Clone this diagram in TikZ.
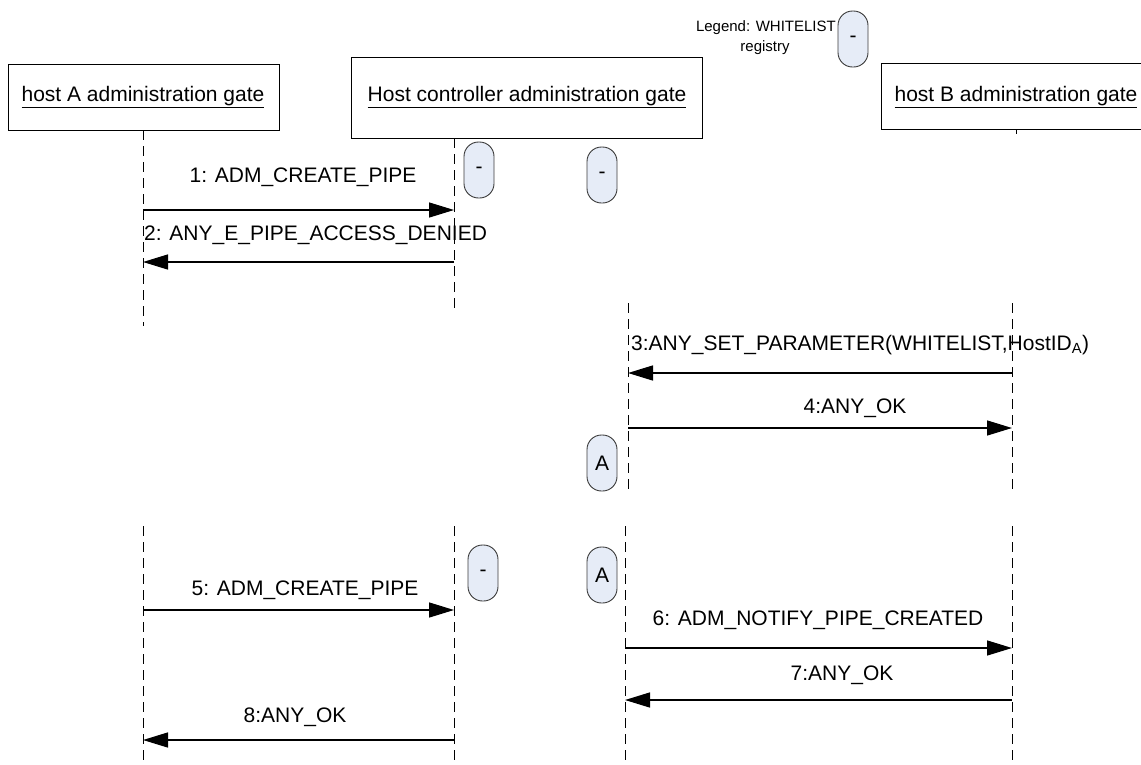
\documentclass[tikz,border=0pt]{standalone}
\usepackage{fontspec}
\setmainfont{Liberation Sans}
\usetikzlibrary{arrows.meta}
\definecolor{pillfill}{RGB}{230,236,247}
\definecolor{pillline}{RGB}{60,60,60}
\begin{document}
\begin{tikzpicture}[x=1pt,y=-1pt,
  box/.style={draw, line width=0.9pt, inner sep=0pt},
  boxtext/.style={font=\fontsize{21}{25}\selectfont, inner sep=0pt},
  msg/.style={font=\fontsize{21}{25}\selectfont, inner sep=0pt},
  legendtext/.style={font=\fontsize{15}{18}\selectfont, inner sep=0pt, align=center},
  life/.style={line width=1pt, dash pattern=on 10pt off 6pt},
  arr/.style={line width=1.4pt, -{Triangle[length=25pt,width=15pt]}},
  pill/.style={draw=pillline, fill=pillfill, line width=0.9pt, rounded corners=14.5pt,
    minimum width=30pt, minimum height=56pt, inner sep=0pt, font=\fontsize{21}{25}\selectfont},
]
\useasboundingbox (0,0) rectangle (1141,764);
\clip (0,0) rectangle (1141,764);

% ---- participant boxes
\node[box, minimum width=271pt, minimum height=66pt] (boxA) at (143.5,97) {};
\node[boxtext] (tA) at (143,97) {\underline{host A administration gate}};
\node[box, minimum width=351pt, minimum height=81pt] (boxH) at (526.5,97.5) {};
\node[boxtext] (tH) at (527,97) {\underline{Host controller administration gate}};
\node[box, minimum width=270pt, minimum height=66pt] (boxB) at (1016,96) {};
\node[boxtext] (tB) at (1016,97) {\underline{host B administration gate}};

% ---- legend
\node[legendtext, anchor=east] (leg1) at (836,28) {Legend: WHITELIST};
\node[legendtext] (leg2) at (765,48) {registry};
\node[pill] (pL) at (853,39) {-};

% ---- lifeline coordinates
\coordinate (A1t) at (143,130);  \coordinate (A1b) at (143,326);
\coordinate (A2t) at (143,526);  \coordinate (A2b) at (143,764);
\coordinate (H1t) at (454,138);  \coordinate (H1b) at (454,311);
\coordinate (H2t) at (454,526);  \coordinate (H2b) at (454,764);
\coordinate (M1t) at (628,303);  \coordinate (M1b) at (628,490);
\coordinate (M2t) at (625,526);  \coordinate (M2b) at (625,764);
\coordinate (B1t) at (1012,303); \coordinate (B1b) at (1012,490);
\coordinate (B2t) at (1012,526); \coordinate (B2b) at (1012,764);
\coordinate (Btk1) at (1016,129); \coordinate (Btk2) at (1016,134);

\draw[life] (A1t) -- (A1b);
\draw[life] (A2t) -- (A2b);
\draw[life] (H1t) -- (H1b);
\draw[life] (H2t) -- (H2b);
\draw[life] (M1t) -- (M1b);
\draw[life] (M2t) -- (M2b);
\draw[life] (B1t) -- (B1b);
\draw[life] (B2t) -- (B2b);
\draw[line width=0.8pt] (Btk1) -- (Btk2);

% ---- state pills
\node[pill] (p1) at (479,170) {-};
\node[pill] (p2) at (602,175) {-};
\node[pill] (p3) at (602,463) {A};
\node[pill] (p4) at (483,573) {-};
\node[pill] (p5) at (602,575) {A};

% ---- message endpoints
\coordinate (m1a) at (143,210);  \coordinate (m1b) at (454,210);
\coordinate (m2a) at (454,262);  \coordinate (m2b) at (143,262);
\coordinate (m3a) at (1012,373); \coordinate (m3b) at (628,373);
\coordinate (m4a) at (628,428);  \coordinate (m4b) at (1012,428);
\coordinate (m5a) at (143,610);  \coordinate (m5b) at (454,610);
\coordinate (m6a) at (625,648);  \coordinate (m6b) at (1012,648);
\coordinate (m7a) at (1012,700); \coordinate (m7b) at (625,700);
\coordinate (m8a) at (454,740);  \coordinate (m8b) at (143,740);

\draw[arr] (m1a) -- (m1b);
\draw[arr] (m2a) -- (m2b);
\draw[arr] (m3a) -- (m3b);
\draw[arr] (m4a) -- (m4b);
\draw[arr] (m5a) -- (m5b);
\draw[arr] (m6a) -- (m6b);
\draw[arr] (m7a) -- (m7b);
\draw[arr] (m8a) -- (m8b);

% ---- message labels
\node[msg] (l1) at (303,177) {1: ADM\_CREATE\_PIPE};
\node[msg, anchor=west] (l2) at (144,235) {2: ANY\_E\_PIPE\_ACCESS\_DENIED};
\node[msg, anchor=west] (l3) at (631,345) {3:ANY\_SET\_PARAMETER(WHITELIST,HostID\textsubscript{A})};
\node[msg] (l4) at (855,408) {4:ANY\_OK};
\node[msg] (l5) at (305,590) {5: ADM\_CREATE\_PIPE};
\node[msg] (l6) at (818,620) {6: ADM\_NOTIFY\_PIPE\_CREATED};
\node[msg] (l7) at (842,675) {7:ANY\_OK};
\node[msg] (l8) at (295,717) {8:ANY\_OK};
\end{tikzpicture}
\end{document}
